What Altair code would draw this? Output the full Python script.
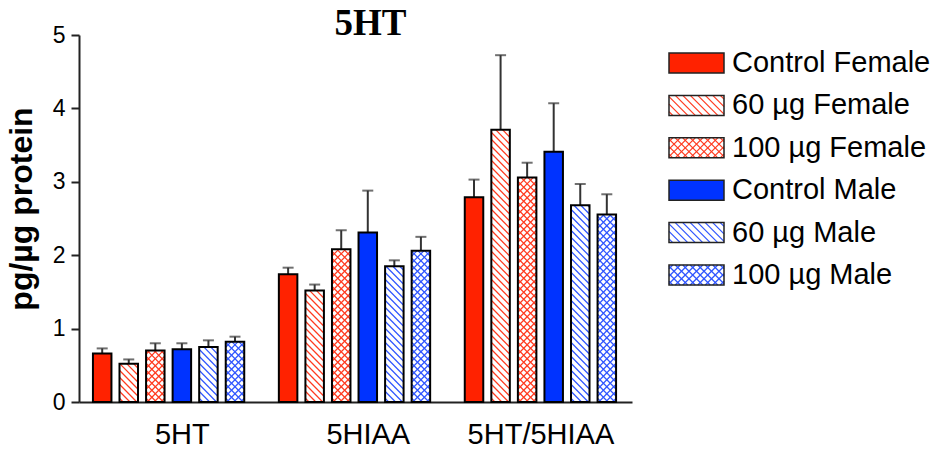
import altair as alt
import pandas as pd

# ---------------- data ----------------
groups = ["5HT", "5HIAA", "5HT/5HIAA"]
series = ["Control Female", "60 µg Female", "100 µg Female",
          "Control Male", "60 µg Male", "100 µg Male"]
mean_5ht = [0.66, 0.52, 0.70, 0.72, 0.75, 0.82]
mean_5hiaa = [1.74, 1.52, 2.08, 2.31, 1.85, 2.06]
mean_ratio = [2.79, 3.71, 3.06, 3.41, 2.68, 2.555]
err_5ht = [0.07, 0.06, 0.10, 0.08, 0.09, 0.07]
err_5hiaa = [0.09, 0.08, 0.26, 0.57, 0.08, 0.19]
err_ratio = [0.24, 1.015, 0.20, 0.66, 0.29, 0.275]
series_color = ["#ff2200", "#ff2200", "#ff2200", "#0033ff", "#0033ff", "#0033ff"]
hatch_color = ["#ff2200", "#ff3a1f", "#ff3a1f", "#0033ff", "#2f55ff", "#2f55ff"]
series_pattern = ["solid", "diag", "cross", "solid", "diag", "cross"]
y_ticks = [0, 1, 2, 3, 4, 5]
label_slots = [3, 10, 16.5]   # centre of each group's columns (incl. blank spacer column)
chart_title = "5HT"

means = [mean_5ht, mean_5hiaa, mean_ratio]
errs = [err_5ht, err_5hiaa, err_ratio]

# ---------------- layout constants ----------------
W, H = 553, 367
X0, X1 = -0.685, 19.76
YMAX = 5
SX = W / (X1 - X0)      # px per slot
SY = H / YMAX           # px per unit
BAR = 18.5
PERIOD = 7.0
FONT = "Liberation Sans"


def hatch(w, h, kind, p):
    """45-degree hatch segments inside a w x h px box (v upward)."""
    segs = []
    if kind in ("diag", "cross"):
        c = p / 2
        while c < w + h:
            u0 = max(0.0, c - h)
            u1 = min(w, c)
            segs.append((u0, c - u0, u1, c - u1))
            c += p
    if kind == "cross":
        c = -w + p / 2
        while c < h:
            u0 = max(0.0, -c)
            u1 = min(w, h - c)
            segs.append((u0, u0 + c, u1, u1 + c))
            c += p
    return segs


rows, hrows = [], []
for g, grp in enumerate(groups):
    for s, ser in enumerate(series):
        slot = g * 7 + s
        m = means[g][s]
        e = errs[g][s]
        pat = series_pattern[s]
        rows.append(dict(group=grp, series=ser, slot=slot, mean=m, top=m + e,
                         fill=series_color[s] if pat == "solid" else "white"))
        if pat != "solid":
            left = slot - (BAR / 2) / SX
            for (u0, v0, u1, v1) in hatch(BAR, m * SY, pat, PERIOD):
                hrows.append(dict(series=ser, color=hatch_color[s],
                                  x=left + u0 / SX, y=v0 / SY,
                                  x2=left + u1 / SX, y2=v1 / SY))
df = pd.DataFrame(rows)
hdf = pd.DataFrame(hrows)
tdf = pd.DataFrame({"title": [chart_title], "x": [(X0 + X1) / 2], "y": [YMAX]})

label_expr = (f"datum.value == {label_slots[0]} ? '{groups[0]}' : "
              f"datum.value == {label_slots[1]} ? '{groups[1]}' : '{groups[2]}'")

x_scale = alt.Scale(domain=[X0, X1], nice=False, zero=False)
y_scale = alt.Scale(domain=[0, YMAX], nice=False)
x_axis = alt.Axis(values=label_slots, labelExpr=label_expr, ticks=False, grid=False,
                  labelFontSize=29, labelFont=FONT, labelColor="black", labelPadding=18,
                  domainColor="#222", domainWidth=2, title=None, labelOverlap=False)
y_axis = alt.Axis(values=y_ticks, format="d", tickSize=8, tickWidth=2, tickColor="#222",
                  domainColor="#222", domainWidth=2, grid=False,
                  labelFontSize=23, labelFont=FONT, labelColor="black", labelPadding=6,
                  title="pg/µg protein", titleFont=FONT, titleFontSize=32,
                  titleFontWeight="bold", titleColor="black", titlePadding=14,
                  titleY=H / 2 - 10)

base = alt.Chart(df)
xe = alt.X("slot:Q", scale=x_scale, axis=x_axis)

err_rule = base.mark_rule(color="#333", strokeWidth=2).encode(
    x=xe, y=alt.Y("mean:Q", scale=y_scale, axis=y_axis), y2="top:Q")
err_cap = base.mark_tick(color="#333", thickness=2, size=11, orient="horizontal").encode(
    x=xe, y=alt.Y("top:Q", scale=y_scale, axis=y_axis))
bar_fill = base.mark_bar(size=BAR, strokeWidth=0).encode(
    x=xe, y=alt.Y("mean:Q", scale=y_scale, axis=y_axis),
    fill=alt.Fill("fill:N", scale=None))
hatch_lines = alt.Chart(hdf).mark_rule(strokeWidth=1.2).encode(
    x=alt.X("x:Q", scale=x_scale, axis=x_axis), x2="x2:Q",
    y=alt.Y("y:Q", scale=y_scale, axis=y_axis), y2="y2:Q",
    color=alt.Color("color:N", scale=None))
bar_outline = base.mark_bar(size=BAR, fillOpacity=0, stroke="black", strokeWidth=2).encode(
    x=xe, y=alt.Y("mean:Q", scale=y_scale, axis=y_axis))
title_text = alt.Chart(tdf).mark_text(font="Liberation Serif", fontSize=37, fontWeight="bold",
                                      baseline="alphabetic", align="center", dx=15,
                                      color="black").encode(
    x=alt.X("x:Q", scale=x_scale, axis=x_axis),
    y=alt.Y("y:Q", scale=y_scale, axis=y_axis),
    text="title:N")

main = alt.layer(err_rule, err_cap, bar_fill, hatch_lines, bar_outline, title_text).properties(
    width=W, height=H)

# ---------------- legend ----------------
LW, LH = 265, 367
SW_W, SW_H = 55, 20
ROW0, ROWSTEP = 28, 42.4
TEXT_X = 63
lrows, lhrows = [], []
for s, ser in enumerate(series):
    cy = ROW0 + ROWSTEP * s
    lrows.append(dict(series=ser, x0=0, x1=SW_W, y0=cy - SW_H / 2, y1=cy + SW_H / 2,
                      cy=cy, tx=TEXT_X,
                      fill=series_color[s] if series_pattern[s] == "solid" else "white"))
    if series_pattern[s] != "solid":
        for (u0, v0, u1, v1) in hatch(SW_W, SW_H, series_pattern[s], PERIOD + 0.5):
            lhrows.append(dict(color=hatch_color[s], x=u0, x2=u1,
                               y=cy + SW_H / 2 - v0, y2=cy + SW_H / 2 - v1))
ldf = pd.DataFrame(lrows)
lhdf = pd.DataFrame(lhrows)
lx = alt.Scale(domain=[0, LW], nice=False, zero=False)
ly = alt.Scale(domain=[0, LH], nice=False, zero=False, reverse=True)

lbase = alt.Chart(ldf)
sw_fill = lbase.mark_rect(strokeWidth=0).encode(
    x=alt.X("x0:Q", scale=lx, axis=None), x2="x1:Q",
    y=alt.Y("y0:Q", scale=ly, axis=None), y2="y1:Q",
    fill=alt.Fill("fill:N", scale=None))
sw_hatch = alt.Chart(lhdf).mark_rule(strokeWidth=1.2).encode(
    x=alt.X("x:Q", scale=lx, axis=None), x2="x2:Q",
    y=alt.Y("y:Q", scale=ly, axis=None), y2="y2:Q",
    color=alt.Color("color:N", scale=None))
sw_out = lbase.mark_rect(fillOpacity=0, stroke="#222", strokeWidth=1.5).encode(
    x=alt.X("x0:Q", scale=lx, axis=None), x2="x1:Q",
    y=alt.Y("y0:Q", scale=ly, axis=None), y2="y1:Q")
sw_text = lbase.mark_text(align="left", baseline="middle", fontSize=29, font=FONT,
                          color="black").encode(
    x=alt.X("tx:Q", scale=lx, axis=None),
    y=alt.Y("cy:Q", scale=ly, axis=None),
    text="series:N")
legend = alt.layer(sw_fill, sw_hatch, sw_out, sw_text).properties(width=LW, height=LH)

chart = alt.hconcat(main, legend, spacing=36).configure(background="white").configure_view(
    strokeWidth=0)
chart.save("out.html", embed_options={"renderer": "svg", "actions": False})
